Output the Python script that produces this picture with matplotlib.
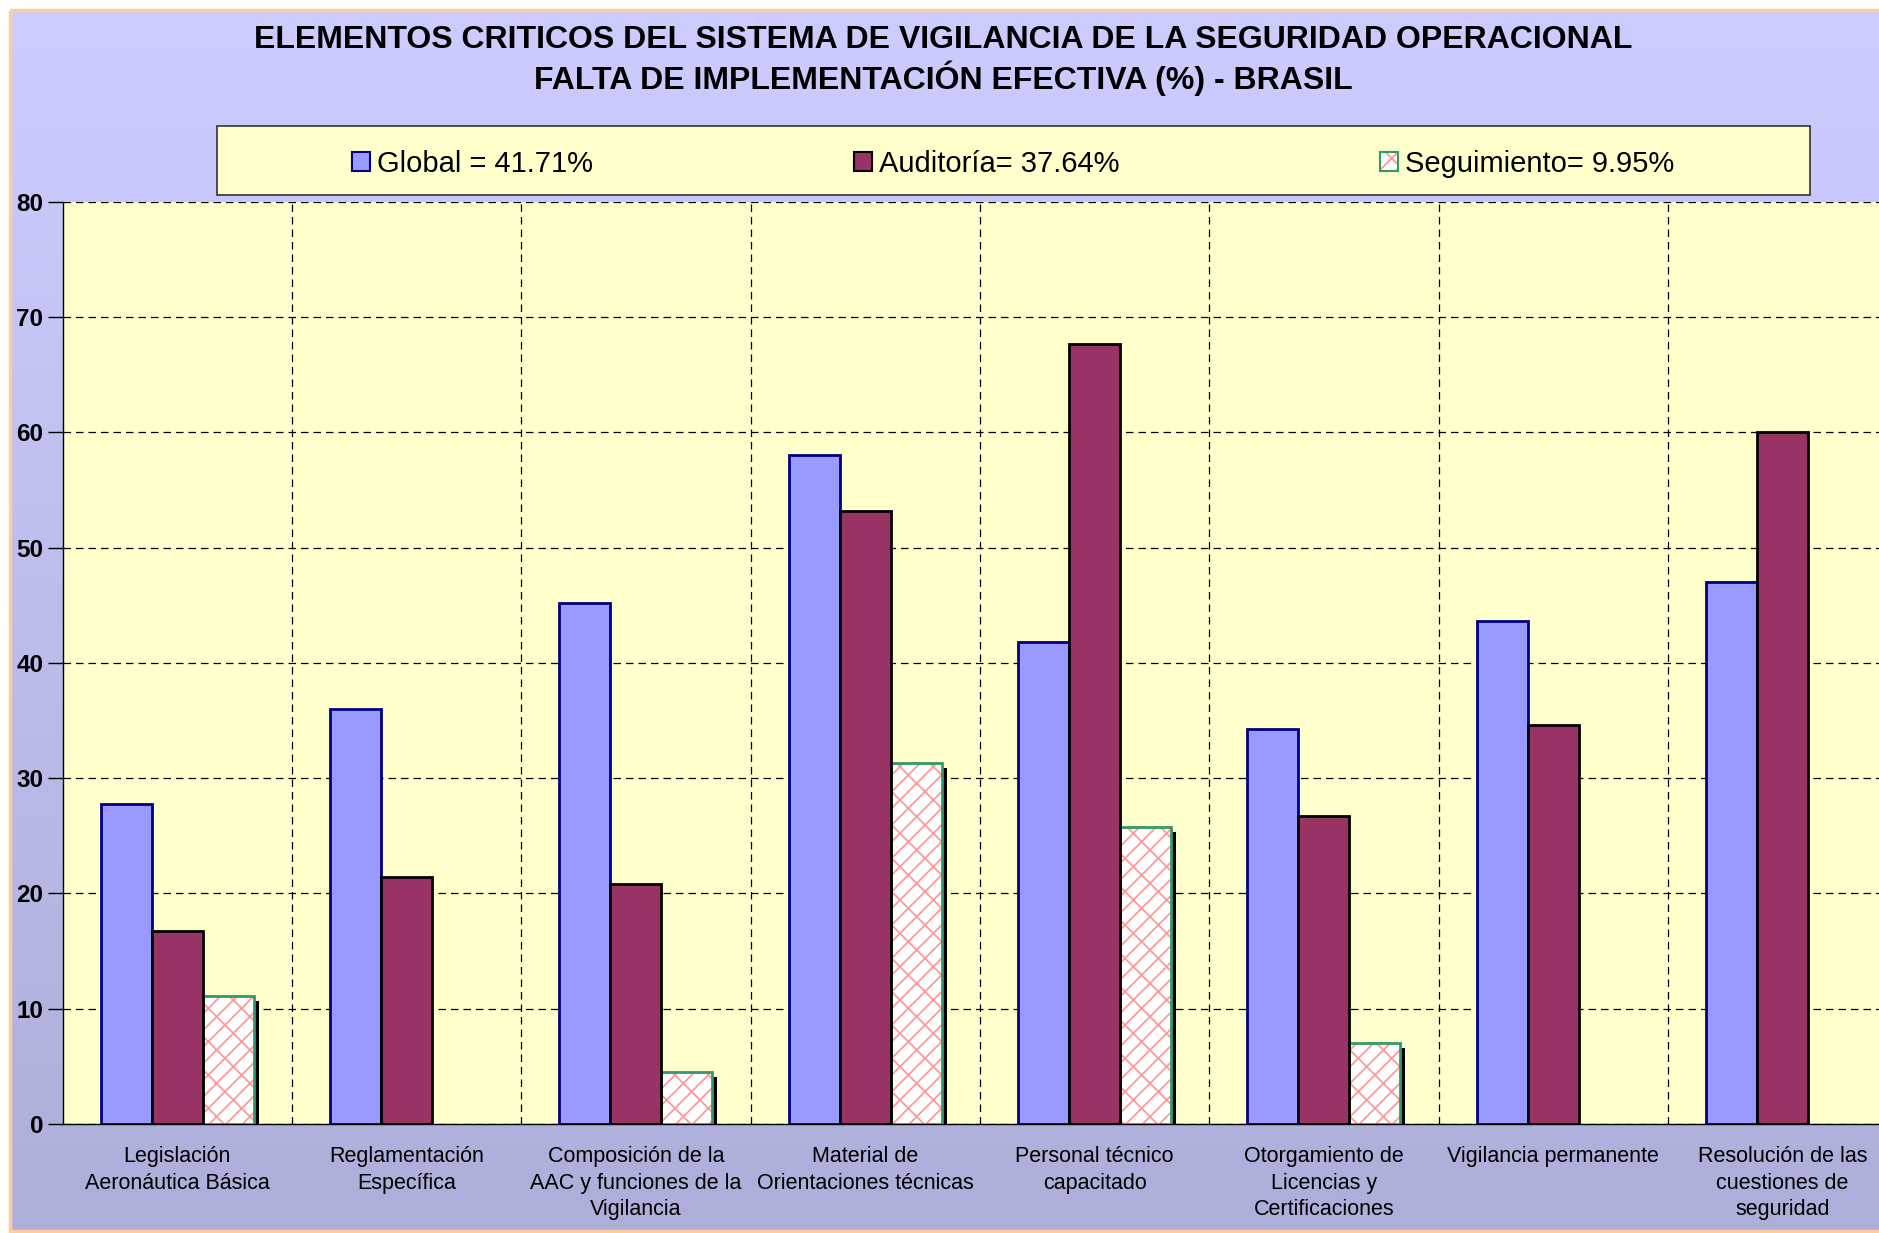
import matplotlib
matplotlib.use('Agg')
import matplotlib.pyplot as plt
import numpy as np
from matplotlib.patches import Patch, Rectangle
from matplotlib.legend_handler import HandlerTuple
from matplotlib.transforms import offset_copy

categories = [
    "Legislación\nAeronáutica Básica",
    "Reglamentación\nEspecífica",
    "Composición de la\nAAC y funciones de la\nVigilancia",
    "Material de\nOrientaciones técnicas",
    "Personal técnico\ncapacitado",
    "Otorgamiento de\nLicencias y\nCertificaciones",
    "Vigilancia permanente",
    "Resolución de las\ncuestiones de\nseguridad",
]
global_vals = [27.8, 36.0, 45.2, 58.0, 41.8, 34.3, 43.6, 47.0]
auditoria_vals = [16.7, 21.4, 20.8, 53.2, 67.7, 26.7, 34.6, 60.0]
seguimiento_vals = [11.1, 0.0, 4.5, 31.3, 25.8, 7.0, 0.0, 0.0]
legend_labels = ["Global = 41.71%", "Auditoría= 37.64%", "Seguimiento= 9.95%"]
yticks = [0, 10, 20, 30, 40, 50, 60, 70, 80]
title_lines = [
    "ELEMENTOS CRITICOS DEL SISTEMA DE VIGILANCIA DE LA SEGURIDAD OPERACIONAL",
    "FALTA DE IMPLEMENTACIÓN EFECTIVA (%) - BRASIL",
]

plt.rcParams['font.family'] = ['Liberation Sans', 'DejaVu Sans']
plt.rcParams['hatch.linewidth'] = 1.3

W, H = 1879, 1233
fig = plt.figure(figsize=(W / 100, H / 100), dpi=100)
fig.patch.set_facecolor('white')

# background gradient
bg = fig.add_axes([0, 0, 1, 1], zorder=-10)
grad = np.linspace(0, 1, 256)[:, None, None]
top = np.array([204, 204, 255]) / 255
bot = np.array([174, 174, 218]) / 255
img = top + (bot - top) * grad
bg.imshow(img, extent=(10, W + 20, 1231, 10), aspect='auto', interpolation='bilinear')
bg.add_patch(Rectangle((10, 10), W + 10, 1221, fill=False, edgecolor='#FFCC99', lw=2.5))
bg.set_xlim(0, W)
bg.set_ylim(H, 0)
bg.axis('off')

# main axes
cat_w = 229.3
left_px = 62.7
ax = fig.add_axes([left_px / W, 109 / H, 1 - left_px / W, (1124 - 201.7) / H])
ax.set_facecolor('#FFFFCC')

x = np.arange(len(categories))
w = 0.2225
ax.bar(x - w, global_vals, w, color='#9999FF', edgecolor='#000080', lw=2, zorder=3)
ax.bar(x, auditoria_vals, w, color='#993366', edgecolor='black', lw=2, zorder=3.2)

seg = np.array(seguimiento_vals)
mask = seg > 0
sx = x[mask] + w
sv = seg[mask]
shadow = ax.bar(sx, sv, w, color='black', lw=0, zorder=2.8)
off = offset_copy(ax.transData, fig=fig, x=3.6, y=-3.6, units='points')
for p in shadow:
    p.set_transform(off)
ax.bar(sx, sv, w, color='white', edgecolor='#FF9999', hatch='//\\', lw=0, zorder=2.9)
ax.bar(sx, sv, w, fill=False, edgecolor='#339966', lw=2, zorder=3.1)

ax.set_xlim(-0.5, -0.5 + (W - left_px) / cat_w)
ax.set_ylim(0, 80)
ax.set_yticks(yticks)
ax.set_xticks(x)
ax.set_xticklabels(categories, fontsize=15.5, linespacing=1.33)
ax.set_xticks(np.arange(len(categories) - 1) + 0.5, minor=True)
ax.tick_params(axis='x', which='both', length=0, pad=16)
ax.tick_params(axis='y', labelsize=17.5, length=10.5, width=1, pad=3.5, direction='out')
for lbl in ax.get_yticklabels():
    lbl.set_fontweight('bold')
ax.set_axisbelow(True)
ax.yaxis.grid(True, linestyle=(0, (6, 4)), color='black', lw=0.9)
ax.xaxis.grid(True, which='minor', linestyle=(0, (6, 4)), color='black', lw=0.9)
ax.xaxis.grid(False, which='major')
for s in ['top', 'right']:
    ax.spines[s].set_visible(False)
for s in ['left', 'bottom']:
    ax.spines[s].set_color('black')
    ax.spines[s].set_linewidth(1)

# legend box
fig.patches.append(Rectangle((216.9 / W, 1 - 195.3 / H), (1809.5 - 216.9) / W, 69.5 / H,
                             transform=fig.transFigure, facecolor='#FFFFCC',
                             edgecolor='#333333', lw=1.2, zorder=1))
handles = [
    Patch(facecolor='#9999FF', edgecolor='#000080', lw=1.5),
    Patch(facecolor='#993366', edgecolor='black', lw=1.5),
    (Patch(facecolor='white', edgecolor='#FF9999', hatch='//\\', lw=0),
     Patch(fill=False, edgecolor='#339966', lw=1.5)),
]
fig.legend(handles, legend_labels, loc='center', bbox_to_anchor=(1013.2 / W, 1 - 164 / H),
           ncol=3, frameon=False, fontsize=21, handlelength=0.62, handleheight=0.62,
           handletextpad=0.24, columnspacing=8.94,
           handler_map={tuple: HandlerTuple(ndivide=1)})

fig.text(943 / W, 1 - 40.5 / H, title_lines[0], ha='center', va='center', fontsize=23, fontweight='bold')
fig.text(943 / W, 1 - 78 / H, title_lines[1], ha='center', va='center', fontsize=23, fontweight='bold')

fig.savefig('out.png', dpi=100)
